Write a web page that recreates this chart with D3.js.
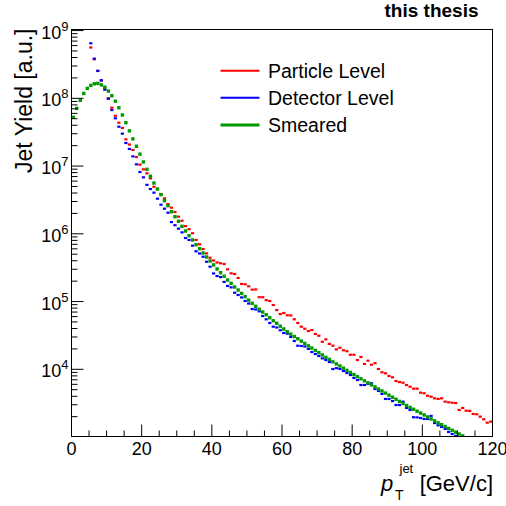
<!DOCTYPE html>
<html><head><meta charset="utf-8">
<script src="https://cdn.jsdelivr.net/npm/d3@7"></script>
<style>
body{margin:0;background:#fff;}
svg{display:block;font-family:"Liberation Sans",Arial,Helvetica,sans-serif;}
</style>
</head><body>
<svg id="c" width="506" height="506"></svg>
<script>
// ---- data (1 GeV/c bins, first bin low edge given by *Start) ----
const particleStart = 5;
const particleLevel = [
 5.62e8, 3.77e8, 2.53e8, 1.82e8, 1.41e8, 1.00e8, 7.26e7, 5.53e7, 4.37e7, 3.65e7,
 2.48e7, 2.08e7, 1.73e7, 1.36e7, 1.05e7, 8.93e6, 7.82e6, 6.59e6, 4.95e6, 4.58e6,
 3.87e6, 3.34e6, 2.75e6, 2.43e6, 2.10e6, 1.79e6, 1.56e6, 1.30e6, 1.17e6, 1.02e6,
 8.11e5, 7.00e5, 5.97e5, 5.15e5, 4.44e5, 4.04e5, 3.77e5, 3.67e5, 3.58e5, 2.99e5,
 2.61e5, 2.55e5, 2.23e5, 1.82e5, 1.80e5, 1.68e5, 1.50e5, 1.51e5, 1.16e5, 1.16e5,
 1.05e5, 1.02e5, 8.89e4, 7.50e4, 6.55e4, 6.78e4, 6.27e4, 6.24e4, 5.47e4, 4.83e4,
 4.26e4, 3.97e4, 3.67e4, 3.80e4, 3.32e4, 3.13e4, 2.55e4, 2.77e4, 2.37e4, 2.23e4,
 1.97e4, 2.08e4, 1.91e4, 1.85e4, 1.64e4, 1.64e4, 1.37e4, 1.52e4, 1.20e4, 1.34e4,
 1.17e4, 1.23e4, 1.01e4, 9.04e3, 8.73e3, 7.96e3, 7.62e3, 6.71e3, 6.50e3, 6.34e3,
 5.86e3, 5.53e3, 5.18e3, 5.18e3, 4.52e3, 4.43e3, 4.07e3, 3.94e3, 3.73e3, 3.65e3,
 3.73e3, 3.33e3, 3.26e3, 3.21e3, 3.18e3, 2.51e3, 2.69e3, 2.45e3, 2.43e3, 2.19e3,
 2.17e3, 2.00e3, 1.83e3, 1.63e3, 1.69e3
];
const detectorStart = 5;
const detectorLevel = [
 6.49e8, 3.85e8, 2.55e8, 1.85e8, 1.34e8, 9.86e7, 6.72e7, 5.07e7, 3.81e7, 3.01e7,
 2.19e7, 1.79e7, 1.39e7, 1.06e7, 8.17e6, 6.82e6, 5.28e6, 4.58e6, 4.05e6, 3.30e6,
 2.69e6, 2.35e6, 2.05e6, 1.49e6, 1.34e6, 1.19e6, 1.05e6, 8.67e5, 8.11e5, 6.67e5,
 5.52e5, 5.12e5, 4.59e5, 3.87e5, 3.27e5, 2.60e5, 2.38e5, 2.30e5, 1.95e5, 1.70e5,
 1.62e5, 1.35e5, 1.25e5, 1.15e5, 1.02e5, 9.35e4, 7.76e4, 7.64e4, 7.18e4, 6.12e4,
 5.47e4, 4.83e4, 4.26e4, 4.14e4, 3.77e4, 3.44e4, 3.36e4, 3.00e4, 2.62e4, 2.23e4,
 2.21e4, 2.17e4, 2.00e4, 1.80e4, 1.68e4, 1.57e4, 1.45e4, 1.37e4, 1.28e4, 1.01e4,
 1.04e4, 1.01e4, 9.44e3, 8.83e3, 8.24e3, 7.45e3, 6.95e3, 5.86e3, 5.86e3, 6.07e3,
 6.21e3, 5.12e3, 4.79e3, 4.33e3, 3.65e3, 3.65e3, 3.40e3, 2.97e3, 2.97e3, 3.33e3,
 2.69e3, 2.51e3, 1.96e3, 1.95e3, 1.91e3, 1.85e3, 1.85e3, 2.05e3, 1.61e3, 1.49e3,
 1.41e3, 1.32e3, 1.19e3, 1.11e3, 1.04e3
];
const smearedStart = 0;
const smeared = [
 5.25e7, 7.11e7, 9.35e7, 1.18e8, 1.40e8, 1.55e8, 1.64e8, 1.66e8, 1.58e8, 1.46e8,
 1.28e8, 1.09e8, 9.06e7, 7.26e7, 5.67e7, 4.37e7, 3.31e7, 2.52e7, 1.96e7, 1.50e7,
 1.15e7, 8.95e6, 7.06e6, 5.62e6, 4.58e6, 3.78e6, 3.08e6, 2.60e6, 2.12e6, 1.79e6,
 1.53e6, 1.29e6, 1.10e6, 9.38e5, 8.11e5, 6.90e5, 6.03e5, 5.21e5, 4.55e5, 3.97e5,
 3.47e5, 3.03e5, 2.67e5, 2.36e5, 2.08e5, 1.86e5, 1.64e5, 1.48e5, 1.32e5, 1.18e5,
 1.05e5, 9.42e4, 8.51e4, 7.69e4, 7.01e4, 6.40e4, 5.78e4, 5.21e4, 4.78e4, 4.33e4,
 3.94e4, 3.59e4, 3.30e4, 3.05e4, 2.83e4, 2.61e4, 2.41e4, 2.22e4, 2.06e4, 1.90e4,
 1.76e4, 1.63e4, 1.50e4, 1.40e4, 1.29e4, 1.20e4, 1.12e4, 1.04e4, 9.66e3, 8.99e3,
 8.37e3, 7.80e3, 7.26e3, 6.76e3, 6.32e3, 5.89e3, 5.50e3, 5.12e3, 4.79e3, 4.46e3,
 4.15e3, 3.87e3, 3.61e3, 3.36e3, 3.13e3, 2.92e3, 2.74e3, 2.57e3, 2.41e3, 2.26e3,
 2.12e3, 1.98e3, 1.85e3, 1.73e3, 1.62e3, 1.52e3, 1.43e3, 1.34e3, 1.26e3, 1.18e3,
 1.11e3, 1.04e3
];
const xMajorTicks = [0, 20, 40, 60, 80, 100, 120];
const xMinorTicks = [5, 10, 15, 25, 30, 35, 45, 50, 55, 65, 70, 75, 85, 90, 95, 105, 110, 115];
const yExponents = [4, 5, 6, 7, 8, 9];
const yMinorMantissas = [2, 3, 4, 5, 6, 7, 8, 9];
const legendLabels = ["Particle Level", "Detector Level", "Smeared"];
const seriesColors = ["#ff0000", "#0000ff", "#009900"];

// ---- layout ----
const L = 71.5, R = 492.5, T = 29.5, B = 436.5;
const svg = d3.select("#c");
svg.append("rect").attr("width", 506).attr("height", 506).attr("fill", "#fff");

const x = d3.scaleLinear().domain([0, 120]).range([L, R]);
const y = d3.scaleLog().domain([1019, 1.037e9]).range([B, T]);

svg.append("clipPath").attr("id", "clip")
  .append("rect").attr("x", L).attr("y", T).attr("width", R - L).attr("height", B - T);

const plot = svg.append("g").attr("clip-path", "url(#clip)");

function drawSeries(vals, start, color, w, h) {
  plot.append("g").selectAll("rect").data(vals).join("rect")
    .attr("x", (d, i) => x(start + i + 0.5) - w / 2)
    .attr("y", d => y(d) - h / 2)
    .attr("width", w).attr("height", h)
    .attr("fill", color);
}
drawSeries(particleLevel, particleStart, seriesColors[0], 3.2, 2.2);
drawSeries(detectorLevel, detectorStart, seriesColors[1], 3.2, 2.2);
drawSeries(smeared, smearedStart, seriesColors[2], 3.4, 3.4);

// ---- frame ----
const ax = svg.append("g").attr("stroke", "#000").attr("stroke-width", 1).attr("fill", "none");
ax.append("rect").attr("x", L).attr("y", T).attr("width", R - L).attr("height", B - T);

// x ticks
xMajorTicks.forEach(v => ax.append("line").attr("x1", x(v)).attr("x2", x(v)).attr("y1", B).attr("y2", B - 12));
xMinorTicks.forEach(v => ax.append("line").attr("x1", x(v)).attr("x2", x(v)).attr("y1", B).attr("y2", B - 6));

// y ticks
const [ymin, ymax] = y.domain();
yExponents.forEach(e => {
  const v = Math.pow(10, e);
  ax.append("line").attr("x1", L).attr("x2", L + 12).attr("y1", y(v)).attr("y2", y(v));
});
[3, 4, 5, 6, 7, 8, 9].forEach(e => {
  yMinorMantissas.forEach(m => {
    const v = m * Math.pow(10, e);
    if (v > ymin && v < ymax)
      ax.append("line").attr("x1", L).attr("x2", L + 6).attr("y1", y(v)).attr("y2", y(v));
  });
});

// tick labels
const tl = svg.append("g").attr("fill", "#000");
xMajorTicks.forEach(v => {
  tl.append("text").attr("x", x(v)).attr("y", 455).attr("text-anchor", "middle")
    .attr("font-size", 18).text(v);
});
yExponents.forEach(e => {
  const yy = y(Math.pow(10, e));
  const t = tl.append("text").attr("x", 68.5).attr("y", yy + 8).attr("text-anchor", "end").attr("font-size", 18);
  t.append("tspan").text("10");
  t.append("tspan").attr("font-size", 13).attr("dy", -8).text(e);
});

// axis titles
svg.append("text").attr("transform", "translate(32," + (T - 1) + ") rotate(-90)")
  .attr("text-anchor", "end").attr("font-size", 23).text("Jet Yield [a.u.]");

const xt = svg.append("g").attr("fill", "#000");
xt.append("text").attr("x", 493).attr("y", 491).attr("text-anchor", "end").attr("font-size", 22).text("[GeV/c]");
xt.append("text").attr("x", 381).attr("y", 491).attr("font-size", 22).attr("font-style", "italic").text("p");
xt.append("text").attr("x", 395).attr("y", 500).attr("font-size", 14).text("T");
xt.append("text").attr("x", 399.5).attr("y", 473).attr("font-size", 13).text("jet");

// label top right
svg.append("text").attr("x", 478.5).attr("y", 17).attr("text-anchor", "end")
  .attr("font-size", 19).attr("font-weight", "bold").text("this thesis");

// legend
const legY = [70.7, 97.7, 125];
const legW = [2, 2, 3];
legendLabels.forEach((lab, i) => {
  svg.append("line").attr("x1", 220.5).attr("x2", 259.5).attr("y1", legY[i]).attr("y2", legY[i])
    .attr("stroke", seriesColors[i]).attr("stroke-width", legW[i]);
  svg.append("text").attr("x", 268).attr("y", legY[i] + 6.8).attr("font-size", 19.5).text(lab);
});
</script>
</body></html>
